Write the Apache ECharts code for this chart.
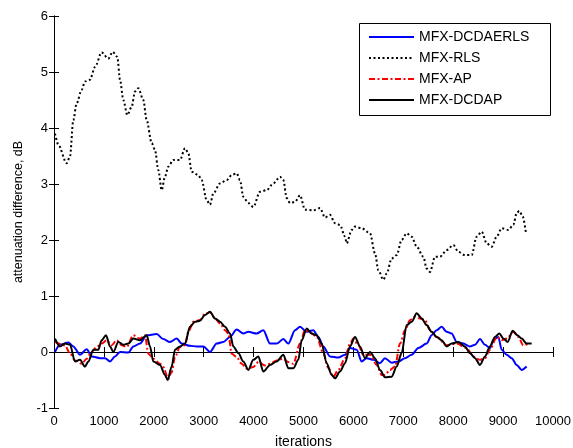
<!DOCTYPE html>
<html>
<head>
<meta charset="utf-8">
<script src="https://cdn.jsdelivr.net/npm/echarts@6/dist/echarts.min.js"></script>
<style>html,body{margin:0;padding:0;background:#fff;}#c{width:573px;height:448px;}</style>
</head>
<body>
<div id="c"></div>
<script>
const seriesNames = ['MFX-DCDAERLS', 'MFX-RLS', 'MFX-AP', 'MFX-DCDAP'];
const xTicks = [0, 1000, 2000, 3000, 4000, 5000, 6000, 7000, 8000, 9000, 10000];
const yTicks = [-1, 0, 1, 2, 3, 4, 5, 6];

const dcdaerls = [[20,0.0],[120,0.13],[287,0.17],[387,0.1],[521,-0.05],[655,0.05],[755,-0.08],[922,-0.11],[1022,-0.11],[1122,-0.17],[1222,-0.08],[1323,0.0],[1490,-0.01],[1590,0.1],[1723,0.15],[1857,0.3],[2058,0.32],[2191,0.23],[2325,0.18],[2459,0.24],[2559,0.15],[2725,0.11],[2859,0.1],[2993,0.1],[3126,0.0],[3260,0.15],[3394,0.18],[3527,0.27],[3661,0.4],[3794,0.33],[3894,0.36],[4061,0.33],[4195,0.39],[4329,0.15],[4462,0.15],[4596,0.23],[4696,0.15],[4830,0.39],[4930,0.45],[5064,0.36],[5197,0.39],[5297,0.27],[5397,0.1],[5531,-0.08],[5698,-0.1],[5832,-0.05],[5932,0.07],[6066,0.04],[6166,-0.17],[6266,-0.11],[6400,-0.14],[6533,-0.2],[6633,-0.11],[6767,-0.19],[6900,-0.17],[7034,-0.11],[7168,-0.05],[7301,0.07],[7468,0.15],[7568,0.3],[7668,0.39],[7769,0.45],[7869,0.36],[7969,0.33],[8069,0.18],[8203,0.15],[8336,0.1],[8437,0.13],[8537,0.23],[8637,0.13],[8737,0.07],[8804,0.21],[8904,0.27],[8972,0.04],[9072,-0.05],[9172,-0.11],[9272,-0.23],[9372,-0.32],[9472,-0.26]];

const rls = [[20,3.9],[87,3.7],[253,3.37],[320,3.49],[387,4.14],[454,4.44],[554,4.68],[621,4.83],[721,4.86],[822,5.09],[955,5.35],[1089,5.24],[1176,5.36],[1269,5.27],[1323,4.86],[1389,4.5],[1470,4.23],[1557,4.38],[1623,4.65],[1690,4.71],[1790,4.5],[1857,4.14],[1958,3.73],[2024,3.61],[2090,3.25],[2158,2.89],[2224,3.13],[2291,3.31],[2391,3.43],[2525,3.43],[2625,3.64],[2692,3.55],[2759,3.22],[2892,3.16],[2959,3.07],[3060,2.71],[3126,2.63],[3193,2.83],[3327,3.01],[3461,3.07],[3561,3.16],[3661,3.19],[3727,3.07],[3794,2.77],[3894,2.66],[3994,2.59],[4128,2.86],[4262,2.89],[4395,3.01],[4529,3.13],[4596,3.07],[4663,2.75],[4730,2.66],[4830,2.68],[4930,2.8],[5030,2.54],[5197,2.53],[5331,2.57],[5431,2.4],[5531,2.45],[5631,2.3],[5731,2.27],[5832,2.06],[5865,1.94],[5966,2.18],[6032,2.24],[6166,2.21],[6333,2.12],[6433,1.76],[6500,1.46],[6600,1.29],[6667,1.4],[6767,1.67],[6867,1.73],[6967,2.0],[7067,2.12],[7168,2.06],[7268,1.88],[7402,1.7],[7468,1.49],[7535,1.43],[7635,1.7],[7735,1.7],[7869,1.82],[8002,1.91],[8103,1.79],[8236,1.73],[8370,1.73],[8470,2.06],[8571,2.15],[8671,1.94],[8771,1.88],[8871,2.06],[8972,2.21],[9105,2.18],[9205,2.27],[9272,2.48],[9325,2.52],[9392,2.42],[9459,2.12]];

const ap = [[20,0.18],[220,0.12],[321,-0.03],[421,-0.15],[555,-0.21],[655,-0.12],[755,0.0],[856,0.09],[955,0.15],[1056,0.21],[1156,0.12],[1256,0.21],[1356,0.12],[1456,0.09],[1590,0.3],[1723,0.24],[1824,0.3],[1890,-0.03],[1990,-0.12],[2124,-0.21],[2191,-0.27],[2291,-0.48],[2358,-0.36],[2425,-0.09],[2525,0.09],[2625,0.12],[2692,0.36],[2792,0.54],[2926,0.57],[3026,0.68],[3126,0.71],[3226,0.6],[3327,0.51],[3427,0.39],[3494,0.33],[3561,-0.03],[3661,-0.09],[3761,-0.21],[3861,-0.3],[3994,-0.27],[4095,-0.18],[4228,-0.24],[4329,-0.21],[4462,-0.15],[4596,-0.12],[4696,-0.18],[4796,-0.21],[4930,0.15],[5030,0.39],[5164,0.33],[5264,0.27],[5397,-0.02],[5498,-0.29],[5598,-0.44],[5698,-0.32],[5832,-0.11],[5932,0.15],[5999,0.24],[6099,0.12],[6199,-0.05],[6333,-0.05],[6466,-0.23],[6567,-0.41],[6633,-0.41],[6733,-0.32],[6834,-0.26],[6934,0.15],[7034,0.39],[7134,0.57],[7234,0.63],[7335,0.6],[7435,0.57],[7535,0.39],[7668,0.27],[7869,0.12],[8069,0.15],[8270,0.07],[8403,-0.08],[8537,-0.14],[8637,-0.11],[8737,0.04],[8871,0.27],[8972,0.21],[9072,0.24],[9205,0.36],[9305,0.27],[9405,0.12],[9506,0.15]];

const dcdap = [[20,0.24],[120,0.1],[220,0.15],[321,0.13],[421,-0.17],[521,-0.14],[621,-0.26],[688,-0.17],[788,0.04],[888,0.04],[955,0.21],[1042,0.3],[1122,0.1],[1189,0.0],[1289,0.18],[1389,0.13],[1490,0.15],[1590,0.24],[1723,0.21],[1857,0.3],[1924,0.1],[1990,-0.17],[2124,-0.23],[2224,-0.41],[2278,-0.5],[2358,-0.26],[2425,0.04],[2525,0.1],[2625,0.15],[2725,0.45],[2826,0.54],[2926,0.56],[3026,0.66],[3126,0.72],[3226,0.6],[3327,0.54],[3427,0.45],[3527,0.33],[3594,0.1],[3694,-0.02],[3794,-0.17],[3894,-0.32],[3994,-0.14],[4095,-0.08],[4195,-0.35],[4329,-0.23],[4462,-0.17],[4596,-0.05],[4696,-0.29],[4796,-0.29],[4896,-0.14],[4963,0.21],[5064,0.42],[5164,0.33],[5264,0.3],[5364,0.15],[5464,-0.2],[5565,-0.41],[5631,-0.47],[5731,-0.35],[5832,-0.2],[5932,0.1],[6032,0.27],[6132,0.1],[6232,-0.11],[6333,0.0],[6433,-0.11],[6533,-0.32],[6633,-0.45],[6767,-0.44],[6867,-0.26],[6967,-0.02],[7067,0.48],[7168,0.54],[7268,0.69],[7368,0.6],[7468,0.48],[7568,0.36],[7668,0.27],[7769,0.21],[7869,0.1],[7969,0.15],[8103,0.18],[8236,0.1],[8336,-0.02],[8437,-0.11],[8537,-0.23],[8637,-0.08],[8737,0.1],[8838,0.27],[8925,0.33],[9005,0.24],[9092,0.18],[9192,0.38],[9285,0.3],[9372,0.24],[9472,0.15],[9572,0.15]];

const FONT = 'Liberation Sans, Arial, sans-serif';
const chart = echarts.init(document.getElementById('c'), null, {renderer: 'canvas'});

function tickStyle() { return {show: true, inside: true, length: 5, lineStyle: {color: '#000', width: 1}}; }
function lineAxis() { return {show: true, lineStyle: {color: '#000', width: 1}}; }

function mkSeries(name, data, color, type, width) {
  return {
    name: name, type: 'line', data: data, showSymbol: false, symbol: 'none',
    smooth: 0.3, smoothMonotone: 'x',
    lineStyle: {color: color, width: width, type: type, cap: 'butt'},
    itemStyle: {color: color},
    animation: false, z: 2
  };
}

chart.setOption({
  animation: false,
  backgroundColor: '#fff',
  grid: {left: 54, right: 20, top: 16, bottom: 40, containLabel: false, outerBoundsMode: 'none'},
  xAxis: [{
    type: 'value', min: xTicks[0], max: xTicks[xTicks.length - 1], interval: 1000,
    axisLine: lineAxis(), axisTick: tickStyle(), splitLine: {show: false},
    axisLabel: {color: '#000', fontFamily: FONT, fontSize: 13, margin: 7, formatter: function (v) { return String(v); }},
    name: 'iterations', nameLocation: 'middle', nameGap: 27,
    nameTextStyle: {color: '#000', fontFamily: FONT, fontSize: 14}
  }, {
    type: 'value', position: 'top', min: xTicks[0], max: xTicks[xTicks.length - 1], interval: 1000,
    axisLine: lineAxis(), axisTick: tickStyle(), axisLabel: {show: false}, splitLine: {show: false}
  }],
  yAxis: [{
    type: 'value', min: yTicks[0], max: yTicks[yTicks.length - 1], interval: 1,
    axisLine: lineAxis(), axisTick: tickStyle(), splitLine: {show: false},
    axisLabel: {color: '#000', fontFamily: FONT, fontSize: 13, margin: 6, formatter: function (v) { return String(v); }},
    name: 'attenuation difference, dB', nameLocation: 'middle', nameGap: 27,
    nameTextStyle: {color: '#000', fontFamily: FONT, fontSize: 12.5}
  }, {
    type: 'value', position: 'right', min: yTicks[0], max: yTicks[yTicks.length - 1], interval: 1,
    axisLine: lineAxis(), axisTick: tickStyle(), axisLabel: {show: false}, splitLine: {show: false}
  }],
  legend: {
    orient: 'vertical', left: 368, top: 30, itemWidth: 45, itemHeight: 14, itemGap: 7,
    padding: 0, data: seriesNames, selectedMode: false, z: 80,
    itemStyle: {opacity: 0},
    textStyle: {color: '#000', fontFamily: FONT, fontSize: 14}
  },
  graphic: [{
    type: 'rect', left: 359, top: 23, z: 10, zlevel: 0, silent: true,
    shape: {width: 191, height: 92},
    style: {fill: '#fff', stroke: '#000', lineWidth: 1}
  }],
  series: [
    mkSeries(seriesNames[0], dcdaerls, '#0000ff', 'solid', 2),
    mkSeries(seriesNames[1], rls, '#000000', [2, 2.5], 2),
    mkSeries(seriesNames[2], ap, '#ff0000', [6, 2.5, 2, 2.5], 2),
    mkSeries(seriesNames[3], dcdap, '#000000', 'solid', 2)
  ]
});
</script>
</body>
</html>
